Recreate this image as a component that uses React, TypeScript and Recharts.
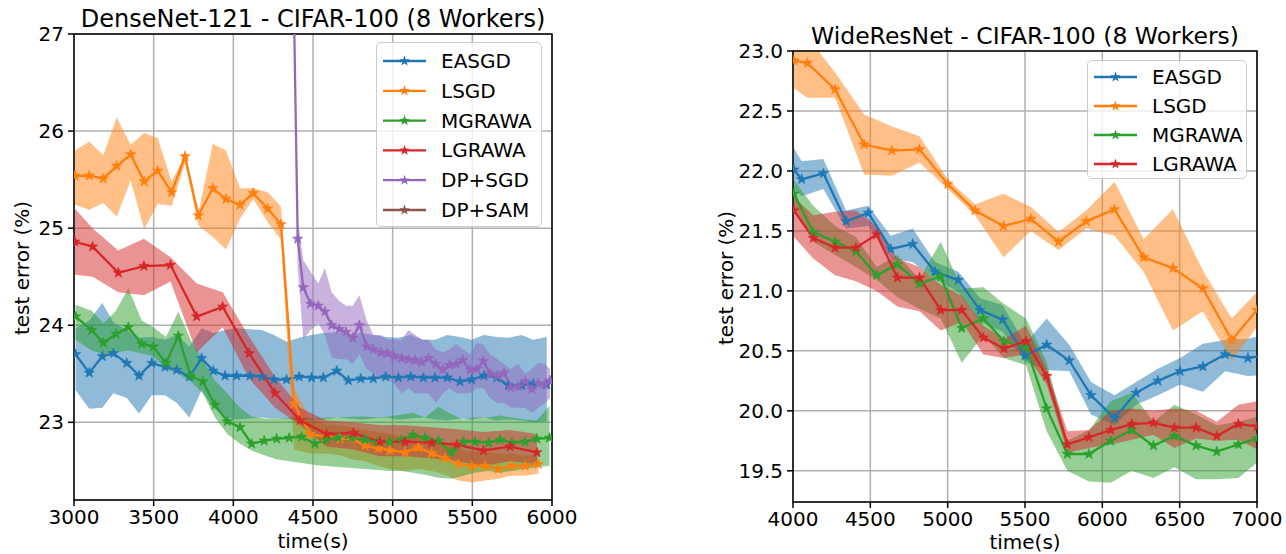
import React from 'react';
import { ComposedChart, Area, Line, XAxis, YAxis, CartesianGrid, ReferenceArea } from 'recharts';

// ---------- DenseNet-121 (left) ----------
const dnEasgdT = [3010, 3096, 3178, 3247, 3331, 3408, 3488, 3571, 3645, 3724, 3801, 3874, 3948, 4021, 4104, 4178, 4255, 4334, 4413, 4491, 4565, 4649, 4722, 4800, 4879, 4956, 5036, 5113, 5193, 5266, 5343, 5423, 5496, 5573, 5653, 5726, 5810, 5883, 5967];
const dnEasgd = [23.70, 23.51, 23.68, 23.71, 23.61, 23.48, 23.61, 23.57, 23.54, 23.47, 23.66, 23.53, 23.48, 23.48, 23.48, 23.47, 23.44, 23.44, 23.47, 23.46, 23.46, 23.53, 23.43, 23.45, 23.45, 23.47, 23.46, 23.47, 23.46, 23.46, 23.46, 23.42, 23.44, 23.48, 23.46, 23.38, 23.38, 23.40, 23.39];
const dnEasgdHi = [23.97, 24.05, 24.23, 24.03, 23.95, 23.87, 23.88, 23.85, 23.9, 23.78, 23.97, 23.92, 23.95, 23.97, 23.96, 23.95, 23.9, 23.83, 23.87, 23.9, 23.92, 23.93, 23.9, 23.92, 23.9, 23.88, 23.87, 23.9, 23.85, 23.85, 23.9, 23.88, 23.85, 23.9, 23.88, 23.87, 23.9, 23.85, 23.88];
const dnEasgdLo = [23.33, 23.14, 23.15, 23.30, 23.25, 23.09, 23.28, 23.28, 23.2, 23.05, 23.33, 23.15, 23.05, 23.03, 23.04, 23.05, 23.04, 23.04, 23.02, 23.03, 23.03, 23.05, 23.04, 23.03, 23.04, 23.05, 23.03, 23.04, 23.05, 23.03, 23.02, 23.04, 23.03, 23.05, 23.02, 23.03, 23.02, 23.0, 23.01];

const dnLsgdT = [3006, 3096, 3184, 3268, 3356, 3440, 3525, 3613, 3697, 3780, 3871, 3954, 4042, 4125, 4216, 4299, 4381, 4481, 4575, 4669, 4743, 4826, 4910, 4983, 5077, 5161, 5245, 5328, 5412, 5496, 5580, 5663, 5747, 5831, 5914];
const dnLsgd = [25.54, 25.54, 25.51, 25.64, 25.76, 25.48, 25.59, 25.37, 25.74, 25.13, 25.41, 25.30, 25.24, 25.36, 25.20, 25.04, 23.19, 22.88, 22.85, 22.83, 22.83, 22.76, 22.73, 22.71, 22.69, 22.74, 22.68, 22.63, 22.57, 22.55, 22.55, 22.52, 22.55, 22.55, 22.57];
const dnLsgdHi = [25.80, 25.89, 25.75, 26.14, 25.86, 25.98, 25.93, 25.48, 25.75, 25.15, 25.87, 25.80, 25.41, 25.41, 25.37, 25.22, 23.35, 23.05, 22.98, 22.97, 22.95, 22.92, 22.9, 22.88, 22.85, 22.87, 22.83, 22.8, 22.72, 22.7, 22.7, 22.68, 22.68, 22.66, 22.66];
const dnLsgdLo = [25.24, 25.19, 25.26, 25.12, 25.49, 24.99, 25.25, 25.23, 25.67, 25.03, 24.91, 24.78, 25.10, 25.30, 25.06, 24.88, 22.72, 22.68, 22.68, 22.66, 22.62, 22.6, 22.55, 22.52, 22.5, 22.52, 22.5, 22.46, 22.4, 22.38, 22.4, 22.42, 22.45, 22.45, 22.47];

const dnMgrawaT = [3010, 3111, 3184, 3264, 3341, 3425, 3498, 3577, 3655, 3732, 3808, 3885, 3962, 4042, 4115, 4194, 4272, 4351, 4429, 4512, 4585, 4659, 4743, 4826, 4904, 4979, 5057, 5126, 5203, 5287, 5371, 5444, 5517, 5601, 5674, 5747, 5831, 5905, 5984];
const dnMgrawa = [24.09, 23.95, 23.82, 23.91, 23.98, 23.81, 23.78, 23.61, 23.89, 23.48, 23.42, 23.18, 23.01, 22.95, 22.78, 22.81, 22.83, 22.84, 22.85, 22.78, 22.82, 22.84, 22.84, 22.82, 22.80, 22.80, 22.82, 22.87, 22.84, 22.81, 22.69, 22.80, 22.80, 22.79, 22.82, 22.79, 22.80, 22.83, 22.84];
const dnMgrawaHi = [24.21, 24.15, 24.02, 24.15, 24.38, 24.05, 23.98, 23.88, 24.14, 23.85, 23.64, 23.43, 23.3, 23.15, 23.06, 23.04, 23.04, 23.05, 23.06, 23.04, 23.05, 23.05, 23.06, 23.06, 23.05, 23.06, 23.08, 23.1, 23.05, 23.16, 23.08, 23.03, 23.05, 23.05, 23.07, 23.05, 23.03, 23.02, 23.17];
const dnMgrawaLo = [23.85, 23.74, 23.7, 23.72, 23.74, 23.71, 23.68, 23.55, 23.5, 23.42, 23.3, 23.05, 22.88, 22.78, 22.71, 22.66, 22.62, 22.6, 22.58, 22.56, 22.55, 22.54, 22.53, 22.52, 22.51, 22.5, 22.5, 22.48, 22.46, 22.43, 22.42, 22.45, 22.48, 22.5, 22.48, 22.5, 22.52, 22.54, 22.55];

const dnLgrawaT = [3006, 3117, 3278, 3439, 3606, 3770, 3933, 4100, 4262, 4419, 4585, 4753, 4920, 5077, 5245, 5402, 5569, 5737, 5905];
const dnLgrawa = [24.86, 24.81, 24.54, 24.61, 24.62, 24.09, 24.19, 23.71, 23.30, 23.02, 22.88, 22.89, 22.80, 22.80, 22.79, 22.77, 22.71, 22.75, 22.69];
const dnLgrawaHi = [25.20, 25.0, 24.77, 24.89, 24.70, 24.43, 24.34, 23.88, 23.47, 23.15, 23.02, 23.0, 22.97, 22.97, 22.95, 22.93, 22.9, 22.92, 22.88];
const dnLgrawaLo = [24.52, 24.5, 24.34, 24.31, 24.45, 23.72, 23.98, 23.45, 23.15, 22.97, 22.75, 22.72, 22.65, 22.65, 22.63, 22.6, 22.55, 22.6, 22.57];

const dnDpSgdT = [4362, 4404, 4439, 4485, 4533, 4575, 4617, 4665, 4707, 4749, 4791, 4837, 4879, 4925, 4967, 5009, 5057, 5099, 5141, 5183, 5225, 5271, 5315, 5357, 5398, 5440, 5486, 5528, 5569, 5611, 5657, 5699, 5741, 5789, 5831, 5873, 5914, 5956, 5987];
const dnDpSgd = [29.1, 24.89, 24.39, 24.22, 24.20, 24.14, 24.00, 23.96, 23.93, 23.87, 24.00, 23.78, 23.75, 23.72, 23.71, 23.68, 23.66, 23.65, 23.64, 23.62, 23.66, 23.60, 23.54, 23.59, 23.60, 23.64, 23.54, 23.55, 23.63, 23.50, 23.48, 23.51, 23.36, 23.37, 23.42, 23.34, 23.40, 23.39, 23.43];
const dnDpSgdHi = [29.3, 25.1, 24.67, 24.55, 24.43, 24.59, 24.34, 24.25, 24.2, 24.2, 24.31, 24.05, 23.9, 23.9, 23.85, 23.85, 23.85, 23.95, 23.9, 23.85, 23.85, 23.75, 23.72, 23.75, 23.81, 23.75, 23.7, 23.82, 23.8, 23.7, 23.65, 23.6, 23.55, 23.6, 23.5, 23.55, 23.61, 23.6, 23.55];
const dnDpSgdLo = [28.9, 24.6, 23.85, 23.95, 24.02, 23.9, 23.67, 23.65, 23.65, 23.6, 23.7, 23.55, 23.5, 23.45, 23.45, 23.4, 23.3, 23.35, 23.3, 23.3, 23.3, 23.2, 23.3, 23.35, 23.3, 23.3, 23.3, 23.35, 23.35, 23.25, 23.2, 23.2, 23.15, 23.15, 23.15, 23.1, 23.15, 23.2, 23.25];

// ---------- WideResNet (right) ----------
const wrEasgdT = [4006, 4056, 4196, 4343, 4487, 4632, 4774, 4918, 5069, 5209, 5356, 5500, 5640, 5786, 5927, 6078, 6218, 6359, 6503, 6650, 6794, 6941, 7080];
const wrEasgd = [22.01, 21.93, 21.98, 21.58, 21.65, 21.35, 21.39, 21.16, 21.09, 20.84, 20.76, 20.46, 20.55, 20.42, 20.13, 19.94, 20.15, 20.25, 20.33, 20.37, 20.47, 20.44, 20.47];
const wrEasgdHi = [22.19, 22.08, 22.10, 21.67, 21.71, 21.46, 21.52, 21.24, 21.16, 20.94, 20.88, 20.56, 20.77, 20.55, 20.24, 20.13, 20.24, 20.35, 20.44, 20.56, 20.59, 20.60, 20.64];
const wrEasgdLo = [21.85, 21.79, 21.85, 21.52, 21.54, 21.27, 21.24, 21.10, 20.99, 20.74, 20.66, 20.41, 20.34, 20.33, 19.97, 19.88, 20.05, 20.13, 20.22, 20.16, 20.33, 20.29, 20.30];

const wrLsgdT = [4006, 4093, 4272, 4460, 4639, 4818, 5001, 5177, 5361, 5538, 5717, 5896, 6079, 6267, 6456, 6650, 6837, 7000];
const wrLsgd = [22.92, 22.90, 22.68, 22.22, 22.17, 22.18, 21.89, 21.67, 21.54, 21.60, 21.41, 21.58, 21.68, 21.28, 21.19, 21.02, 20.59, 20.84];
const wrLsgdHi = [23.12, 23.12, 22.82, 22.47, 22.37, 22.29, 21.93, 21.72, 21.81, 21.70, 21.49, 21.67, 21.91, 21.43, 21.68, 21.17, 20.77, 20.99];
const wrLsgdLo = [22.69, 22.61, 22.61, 21.97, 21.96, 22.07, 21.85, 21.63, 21.28, 21.50, 21.34, 21.52, 21.46, 21.16, 20.67, 20.83, 20.42, 20.70];

const wrGrawaT = [4006, 4131, 4272, 4407, 4541, 4675, 4818, 4955, 5091, 5231, 5364, 5507, 5640, 5774, 5914, 6054, 6190, 6330, 6466, 6606, 6740, 6879, 7000];
const wrMgrawa = [21.81, 21.49, 21.41, 21.33, 21.13, 21.22, 21.06, 21.12, 20.69, 20.77, 20.58, 20.53, 20.02, 19.64, 19.64, 19.75, 19.84, 19.71, 19.79, 19.71, 19.66, 19.72, 19.77];
const wrMgrawaHi = [21.92, 21.71, 21.54, 21.45, 21.20, 21.3, 21.1, 21.41, 21.02, 21.03, 20.89, 20.77, 20.41, 19.75, 19.84, 20.08, 20.15, 19.91, 20.05, 19.97, 19.88, 19.91, 19.95];
const wrMgrawaLo = [21.71, 21.41, 21.3, 21.2, 21.09, 20.95, 20.85, 20.77, 20.40, 20.63, 20.44, 20.38, 19.83, 19.50, 19.41, 19.40, 19.50, 19.44, 19.53, 19.43, 19.43, 19.44, 19.57];
const wrLgrawa = [21.67, 21.44, 21.36, 21.36, 21.47, 21.11, 21.11, 20.84, 20.84, 20.61, 20.52, 20.58, 20.29, 19.72, 19.78, 19.84, 19.89, 19.90, 19.86, 19.86, 19.79, 19.89, 19.87];
const wrLgrawaHi = [21.78, 21.63, 21.66, 21.67, 21.54, 21.27, 21.2, 21.05, 20.96, 20.71, 20.60, 20.71, 20.35, 19.83, 19.84, 20.0, 20.02, 20.0, 20.02, 20.0, 19.91, 20.05, 20.08];
const wrLgrawaLo = [21.45, 21.27, 21.13, 21.08, 21.0, 20.87, 20.83, 20.67, 20.74, 20.47, 20.44, 20.47, 20.22, 19.65, 19.69, 19.72, 19.76, 19.80, 19.69, 19.77, 19.75, 19.76, 19.68];

// axes
const dnXTicks = [3000, 3500, 4000, 4500, 5000, 5500, 6000];
const dnYTicks = [23, 24, 25, 26, 27];
const wrXTicks = [4000, 4500, 5000, 5500, 6000, 6500, 7000];
const wrYTicks = [19.5, 20.0, 20.5, 21.0, 21.5, 22.0, 22.5, 23.0];

const FONT = "'DejaVu Sans', sans-serif";

const rows = (t: number[], y: number[], lo: number[], hi: number[]) =>
    t.map((x, i) => ({ t: x, y: y[i], band: [lo[i], hi[i]] }));

const dnSeries = [
    { name: 'EASGD', color: '#1f77b4', data: rows(dnEasgdT, dnEasgd, dnEasgdLo, dnEasgdHi) },
    { name: 'LSGD', color: '#ff7f0e', data: rows(dnLsgdT, dnLsgd, dnLsgdLo, dnLsgdHi) },
    { name: 'MGRAWA', color: '#2ca02c', data: rows(dnMgrawaT, dnMgrawa, dnMgrawaLo, dnMgrawaHi) },
    { name: 'LGRAWA', color: '#d62728', data: rows(dnLgrawaT, dnLgrawa, dnLgrawaLo, dnLgrawaHi) },
    { name: 'DP+SGD', color: '#9467bd', data: rows(dnDpSgdT, dnDpSgd, dnDpSgdLo, dnDpSgdHi) },
];
const dnLegend = [...dnSeries.map((s) => ({ name: s.name, color: s.color })), { name: 'DP+SAM', color: '#8c564b' }];

const wrSeries = [
    { name: 'EASGD', color: '#1f77b4', data: rows(wrEasgdT, wrEasgd, wrEasgdLo, wrEasgdHi) },
    { name: 'LSGD', color: '#ff7f0e', data: rows(wrLsgdT, wrLsgd, wrLsgdLo, wrLsgdHi) },
    { name: 'MGRAWA', color: '#2ca02c', data: rows(wrGrawaT, wrMgrawa, wrMgrawaLo, wrMgrawaHi) },
    { name: 'LGRAWA', color: '#d62728', data: rows(wrGrawaT, wrLgrawa, wrLgrawaLo, wrLgrawaHi) },
];
const wrLegend = wrSeries.map((s) => ({ name: s.name, color: s.color }));

function starPoints(cx: number, cy: number, R: number) {
    const r = R * 0.4;
    const pts: string[] = [];
    for (let i = 0; i < 10; i++) {
        const a = (-90 + i * 36) * Math.PI / 180;
        const rad = i % 2 === 0 ? R : r;
        pts.push(`${(cx + rad * Math.cos(a)).toFixed(2)},${(cy + rad * Math.sin(a)).toFixed(2)}`);
    }
    return pts.join(' ');
}

const makeStar = (color: string) => (p: any) => {
    if (p.cx == null || p.cy == null) return <g key={`n-${p.index}`} />;
    return <polygon key={`s-${p.index}`} points={starPoints(p.cx, p.cy, 5.5)} fill={color} stroke={color} strokeWidth={0.6} />;
};

type Panel = {
    series: typeof dnSeries;
    width: number;
    margin: { top: number; right: number; bottom: number; left: number };
    xDomain: [number, number];
    yDomain: [number, number];
    xTicks: number[];
    yTicks: number[];
    yFmt: (v: number) => string;
};

function ErrorPanel({ series, width, margin, xDomain, yDomain, xTicks, yTicks, yFmt }: Panel) {
    const tickStyle = { fill: '#000', fontSize: 20, fontFamily: FONT };
    return (
        <ComposedChart width={width} height={554} margin={margin}>
            <CartesianGrid stroke="#b0b0b0" strokeWidth={1.5} />
            <XAxis type="number" dataKey="t" domain={xDomain} ticks={xTicks} interval={0} allowDataOverflow
                axisLine={false} tickLine={{ stroke: '#000', strokeWidth: 1.5 }} tickSize={6} tickMargin={4}
                tick={tickStyle} height={40} />
            <YAxis type="number" domain={yDomain} ticks={yTicks} interval={0} allowDataOverflow
                axisLine={false} tickLine={{ stroke: '#000', strokeWidth: 1.5 }} tickSize={6} tickMargin={4}
                tick={tickStyle} width={60} tickFormatter={yFmt} />
            {series.map((s) => (
                <Area key={`a-${s.name}`} data={s.data} dataKey="band" type="linear" stroke="none"
                    fill={s.color} fillOpacity={0.5} dot={false} activeDot={false} isAnimationActive={false} />
            ))}
            {series.map((s) => (
                <Line key={`l-${s.name}`} data={s.data} dataKey="y" type="linear" stroke={s.color} strokeWidth={2.3}
                    dot={makeStar(s.color)} activeDot={false} isAnimationActive={false} />
            ))}
            <ReferenceArea x1={xDomain[0]} x2={xDomain[1]} y1={yDomain[0]} y2={yDomain[1]}
                fill="none" stroke="#000" strokeWidth={1.5} />
        </ComposedChart>
    );
}

function LegendBox({ items, left, top, width, rowH, firstY }: { items: { name: string; color: string }[]; left: number; top: number; width: number; rowH: number; firstY: number }) {
    const height = firstY * 2 + rowH * (items.length - 1);
    return (
        <div style={{ position: 'absolute', left, top, width, height, boxSizing: 'border-box', border: '1.2px solid #cccccc', borderRadius: 5, background: 'rgba(255,255,255,0.8)' }}>
            <svg width={width} height={height} style={{ position: 'absolute', left: 0, top: 0 }}>
                {items.map((it, i) => {
                    const cy = firstY + i * rowH;
                    return (
                        <g key={it.name}>
                            <line x1={6} x2={49} y1={cy} y2={cy} stroke={it.color} strokeWidth={2.3} />
                            <polygon points={starPoints(27.5, cy, 5.5)} fill={it.color} />
                            <text x={64} y={cy} dominantBaseline="central" fontFamily={FONT} fontSize={20} fill="#000">{it.name}</text>
                        </g>
                    );
                })}
            </svg>
        </div>
    );
}

export default function App() {
    return (
        <div style={{ position: 'relative', width: 1286, height: 554, background: '#fff', overflow: 'hidden' }}>
            <style>{'body{margin:0}'}</style>
            <div style={{ position: 'absolute', left: 0, top: 0 }}>
                <ErrorPanel series={dnSeries} width={600} margin={{ top: 34, right: 48, bottom: 14, left: 14 }}
                    xDomain={[3000, 6000]} yDomain={[22.2, 27]} xTicks={dnXTicks} yTicks={dnYTicks} yFmt={(v) => String(v)} />
            </div>
            <div style={{ position: 'absolute', left: 700, top: 0 }}>
                <ErrorPanel series={wrSeries} width={586} margin={{ top: 51, right: 29, bottom: 12, left: 33 }}
                    xDomain={[4000, 7000]} yDomain={[19.24, 23.0]} xTicks={wrXTicks} yTicks={wrYTicks} yFmt={(v) => v.toFixed(1)} />
            </div>
            <LegendBox items={dnLegend} left={376} top={42} width={166} rowH={29.8} firstY={18} />
            <LegendBox items={wrLegend} left={1087} top={60} width={160} rowH={29} firstY={16} />
            <svg width={1286} height={554} style={{ position: 'absolute', left: 0, top: 0, pointerEvents: 'none' }}>
                <g fontFamily={FONT} fill="#000">
                    <text x={313} y={27} fontSize={24} textAnchor="middle">DenseNet-121 - CIFAR-100 (8 Workers)</text>
                    <text x={1025} y={44} fontSize={23.5} textAnchor="middle">WideResNet - CIFAR-100 (8 Workers)</text>
                    <text x={313} y={548} fontSize={20} textAnchor="middle">time(s)</text>
                    <text x={1025} y={549} fontSize={20} textAnchor="middle">time(s)</text>
                    <text transform="translate(22,268) rotate(-90)" fontSize={20} textAnchor="middle" dominantBaseline="central">test error (%)</text>
                    <text transform="translate(726,278) rotate(-90)" fontSize={20} textAnchor="middle" dominantBaseline="central">test error (%)</text>
                </g>
            </svg>
        </div>
    );
}
